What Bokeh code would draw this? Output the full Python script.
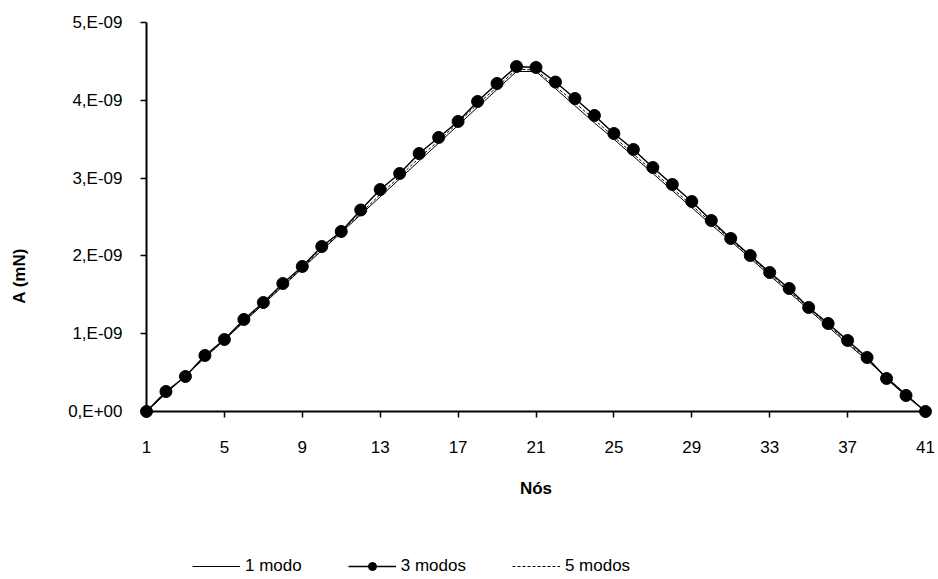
import numpy as np
from bokeh.plotting import figure
from bokeh.models import Range1d, FixedTicker, CustomJSTickFormatter, Legend, LegendItem, Label
from bokeh.embed import file_html
from bokeh.resources import INLINE

# ---- data (values in units of 1e-9 mN) ----
nodes = list(range(1, 42))
modo1 = [0, 0.23, 0.46, 0.69, 0.92, 1.15, 1.38, 1.61, 1.84, 2.07, 2.30, 2.53, 2.76, 2.99,
         3.22, 3.45, 3.68, 3.91, 4.14, 4.37, 4.37, 4.15, 3.93, 3.71, 3.50, 3.28, 3.06, 2.84,
         2.62, 2.40, 2.19, 1.97, 1.75, 1.53, 1.31, 1.09, 0.87, 0.66, 0.44, 0.22, 0]
modo3 = [0, 0.257, 0.450, 0.720, 0.925, 1.183, 1.401, 1.645, 1.864, 2.121, 2.314, 2.590,
         2.853, 3.059, 3.316, 3.522, 3.728, 3.985, 4.216, 4.434, 4.422, 4.235, 4.023, 3.805,
         3.573, 3.368, 3.136, 2.918, 2.699, 2.455, 2.224, 2.005, 1.787, 1.581, 1.337, 1.131,
         0.913, 0.694, 0.424, 0.206, 0]
modo5 = [0, 0.24, 0.46, 0.70, 0.92, 1.16, 1.39, 1.62, 1.85, 2.09, 2.31, 2.55, 2.79, 3.02,
         3.26, 3.48, 3.71, 3.95, 4.17, 4.40, 4.39, 4.18, 3.97, 3.75, 3.53, 3.31, 3.09, 2.87,
         2.65, 2.43, 2.21, 1.99, 1.77, 1.55, 1.33, 1.11, 0.89, 0.67, 0.44, 0.22, 0]
x_ticks = [1, 5, 9, 13, 17, 21, 25, 29, 33, 37, 41]
y_ticks = [0, 1, 2, 3, 4, 5]
series_names = ["1 modo", "3 modos", "5 modos"]
x_label = "Nós"
y_label = "A  (mN)"

FONT = "Liberation Sans"
FS = "17px"
W, H = 938, 579

# screen placement of the plotting area (pixels)
AX_LEFT, AX_RIGHT = 146, 925      # x of first / last node
AX_BOTTOM, AX_TOP = 411, 22       # y of 0 and of 5e-9
ppx = (AX_RIGHT - AX_LEFT) / (x_ticks[-1] - x_ticks[0])
ppy = (AX_BOTTOM - AX_TOP) / (y_ticks[-1] - y_ticks[0])
x0 = x_ticks[0] - AX_LEFT / ppx
x1 = x0 + W / ppx
y1 = y_ticks[-1] + AX_TOP / ppy
y0 = y1 - H / ppy

p = figure(width=W, height=H,
           x_range=Range1d(x0, x1), y_range=Range1d(y0, y1),
           min_border=0, min_border_left=0, min_border_right=0,
           min_border_top=0, min_border_bottom=0,
           output_backend="svg", toolbar_location=None)
p.outline_line_color = None
p.xgrid.visible = False
p.ygrid.visible = False
p.background_fill_color = "white"
p.border_fill_color = "white"

for ax in (p.xaxis[0], p.yaxis[0]):
    ax.axis_line_color = None
    ax.major_tick_in = 0
    ax.major_tick_out = 6
    ax.major_tick_line_color = "black"
    ax.major_tick_line_width = 1.5
    ax.minor_tick_line_color = None
    ax.major_label_text_font = FONT
    ax.major_label_text_font_size = FS
    ax.major_label_text_color = "black"

p.xaxis.ticker = FixedTicker(ticks=x_ticks)
p.xaxis.fixed_location = y_ticks[0]
p.xaxis.major_label_standoff = 23

p.yaxis.ticker = FixedTicker(ticks=y_ticks)
p.yaxis.fixed_location = x_ticks[0]
p.yaxis.major_label_standoff = 18
p.yaxis.formatter = CustomJSTickFormatter(code="""
    return tick == 0 ? "0,E+00" : tick.toFixed(0) + ",E-09";
""")

# axis lines
p.segment(x0=[x_ticks[0], x_ticks[0]], y0=[y_ticks[0], y_ticks[0]],
          x1=[x_ticks[-1], x_ticks[0]], y1=[y_ticks[0], y_ticks[-1]],
          line_color="black", line_width=2)

r1 = p.line(nodes, modo1, line_color="black", line_width=1)
r5 = p.line(nodes, modo5, line_color="black", line_width=1, line_dash="3 2")
r3l = p.line(nodes, modo3, line_color="black", line_width=1.5)
r3c = p.scatter(nodes, modo3, marker="circle", size=12, fill_color="black", line_color="black")

# axis titles
p.add_layout(Label(x=(x_ticks[0] + x_ticks[-1]) / 2, y=y_ticks[0], y_offset=-77,
                   text=x_label, text_align="center", text_baseline="middle",
                   text_font=FONT, text_font_size=FS, text_font_style="bold",
                   text_color="black"))
p.add_layout(Label(x=x_ticks[0], x_offset=-127, y=y_ticks[0], y_offset=138,
                   text=y_label, angle=np.pi / 2,
                   text_align="center", text_baseline="middle",
                   text_font=FONT, text_font_size=FS, text_font_style="bold",
                   text_color="black"))

legend = Legend(items=[LegendItem(label=series_names[0], renderers=[r1]),
                       LegendItem(label=series_names[1], renderers=[r3l, r3c]),
                       LegendItem(label=series_names[2], renderers=[r5])],
                orientation="horizontal", location=(192, 3),
                border_line_color=None, background_fill_alpha=0,
                padding=0, margin=0, spacing=46, glyph_width=48, glyph_height=20,
                label_height=20, label_standoff=5,
                label_text_font=FONT, label_text_font_size=FS, label_text_color="black")
p.add_layout(legend)

open("out.html", "w").write(file_html(p, INLINE))
